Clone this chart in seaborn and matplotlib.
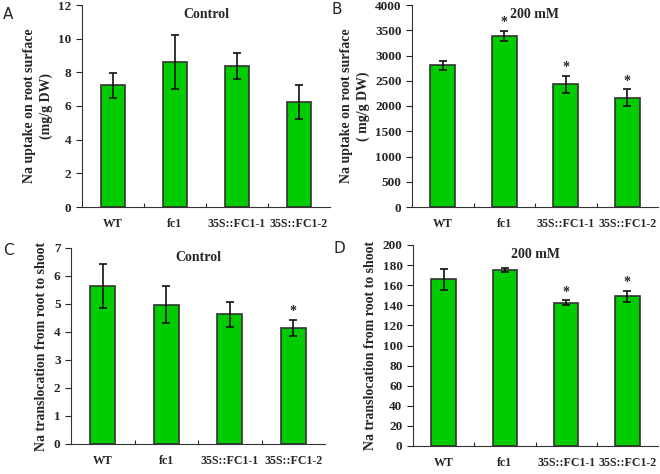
import numpy as np
import pandas as pd
import matplotlib
matplotlib.use("Agg")
import matplotlib.pyplot as plt
import seaborn as sb

lines = ['WT', 'fc1', '35S::FC1-1', '35S::FC1-2']

uptake_ctrl = [7.22, 8.6, 8.38, 6.22]
uptake_ctrl_sd = [0.72, 1.6, 0.77, 1.0]
uptake_salt = [2810, 3385, 2433, 2162]
uptake_salt_sd = [90, 100, 170, 170]
transloc_ctrl = [5.63, 4.98, 4.63, 4.14]
transloc_ctrl_sd = [0.79, 0.65, 0.45, 0.29]
transloc_salt = [165.8, 174.8, 142.6, 148.9]
transloc_salt_sd = [10.3, 2.0, 2.2, 5.8]

# which bars get a significance star
stars_a = [False, False, False, False]
stars_b = [False, True, True, True]
stars_c = [False, False, False, True]
stars_d = [False, False, True, True]

sb.set_style("ticks")
plt.rcParams['font.family'] = ['Liberation Serif', 'DejaVu Serif']
plt.rcParams['font.weight'] = 'bold'

fig = plt.figure(figsize=(6.6, 4.74), dpi=100)
W, H = 660.0, 474.0


def box(l, r, t, b):
    return [l / W, (H - b) / H, (r - l) / W, (b - t) / H]


panels = [
    ('A', box(82, 330, 5, 207), uptake_ctrl, uptake_ctrl_sd, stars_a, 'Control',
     'Na uptake on root surface\n(mg/g DW)', (0, 12), 2, (0.005, 0.985)),
    ('B', box(412, 658, 5, 207), uptake_salt, uptake_salt_sd, stars_b, '200 mM',
     'Na uptake on root surface\n( mg/g DW)', (0, 4000), 500, (0.503, 0.996)),
    ('C', box(71, 325, 248, 444), transloc_ctrl, transloc_ctrl_sd, stars_c, 'Control',
     'Na translocation from root to shoot', (0, 7), 1, (0.005, 0.487)),
    ('D', box(413, 658, 245, 446), transloc_salt, transloc_salt_sd, stars_d, '200 mM',
     'Na translocation from root to shoot', (0, 200), 20, (0.505, 0.492)),
]

for letter, pos, vals, sd, stars, title, ylab, ylim, step, lpos in panels:
    ax = fig.add_axes(pos)
    df = pd.DataFrame({'line': lines, 'value': vals})
    sb.barplot(data=df, x='line', y='value', color='#00cc00', width=0.4,
               saturation=1, edgecolor='#333333', linewidth=1.2,
               errorbar=None, ax=ax)
    ax.errorbar(range(len(lines)), vals, yerr=sd, fmt='none', ecolor='#111111',
                elinewidth=1.2, capsize=3, capthick=1.2)
    for i, s in enumerate(stars):
        if s:
            ax.text(i, vals[i] + sd[i] + (ylim[1] - ylim[0]) * 0.008, '*',
                    ha='center', va='bottom', fontsize=10)
    ax.set_xlim(-0.5, 3.5)
    ax.set_ylim(*ylim)
    ax.set_yticks(np.arange(ylim[0], ylim[1] + step / 2, step))
    ax.set_xticks([0.5, 1.5, 2.5], minor=False)
    ax.set_xticklabels([])
    ax.set_xticks(range(len(lines)), minor=True)
    ax.set_xticklabels(lines, minor=True, fontsize=8.6, fontweight='bold')
    ax.tick_params(axis='x', which='minor', length=0, pad=8)
    ax.tick_params(axis='x', which='major', direction='in', length=3)
    ax.tick_params(axis='y', direction='out', length=4, labelsize=9.5)
    ax.set_xlabel('')
    ax.set_ylabel(ylab, fontsize=10, fontweight='bold', linespacing=1.3)
    for sp in ['top', 'right']:
        ax.spines[sp].set_visible(False)
    for sp in ['left', 'bottom']:
        ax.spines[sp].set_color('#333333')
    ax.text(0.5, 0.985, title, transform=ax.transAxes, ha='center', va='top',
            fontsize=10, fontweight='bold')
    fig.text(lpos[0], lpos[1], letter, family='DejaVu Sans', fontsize=11,
             fontweight='normal', va='top', ha='left')

fig.savefig('out.png', dpi=100)
